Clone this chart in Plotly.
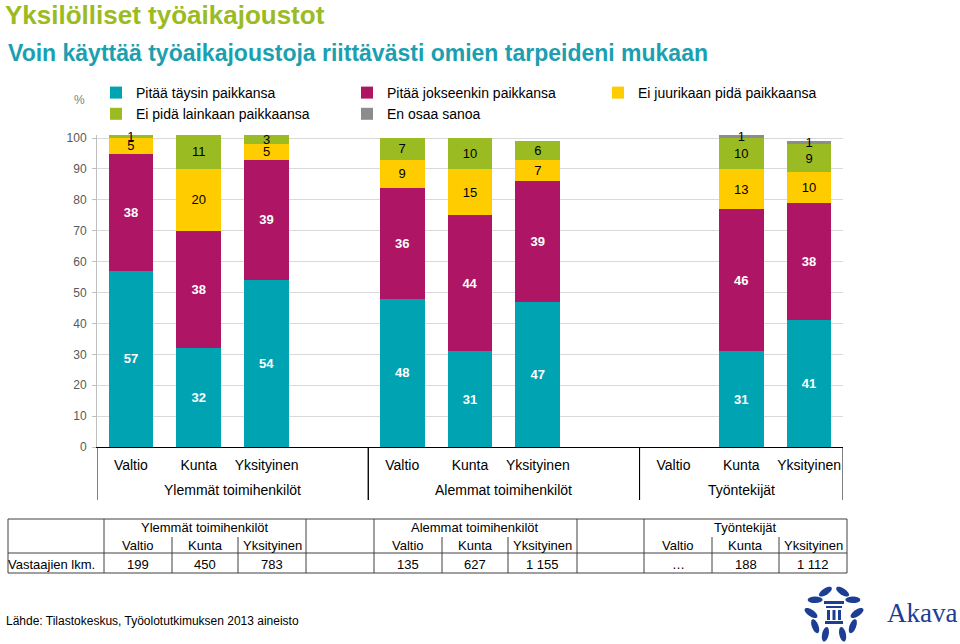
import math
import plotly.graph_objects as go

# ---------------- data ----------------
groups = ["Ylemmät toimihenkilöt"] * 4 + ["Alemmat toimihenkilöt"] * 4 + ["Työntekijät"] * 3
sectors = ["Valtio", "Kunta", "Yksityinen", " ",
           "Valtio", "Kunta", "Yksityinen", " ",
           "Valtio", "Kunta", "Yksityinen"]

series_names = ["Pitää täysin paikkansa", "Pitää jokseenkin paikkansa",
                "Ei juurikaan pidä paikkaansa", "Ei pidä lainkaan paikkaansa",
                "En osaa sanoa"]
taysin = [57, 32, 54, None, 48, 31, 47, None, None, 31, 41]
jokseenkin = [38, 38, 39, None, 36, 44, 39, None, None, 46, 38]
ei_juurikaan = [5, 20, 5, None, 9, 15, 7, None, None, 13, 10]
ei_lainkaan = [1, 11, 3, None, 7, 10, 6, None, None, 10, 9]
eos = [None, None, None, None, None, None, None, None, None, 1, 1]

y_ticks = [0, 10, 20, 30, 40, 50, 60, 70, 80, 90, 100]

table_groups = ["Ylemmät toimihenkilöt", "Alemmat toimihenkilöt", "Työntekijät"]
table_sectors = ["Valtio", "Kunta", "Yksityinen"]
respondents = [["199", "450", "783"], ["135", "627", "1 155"], ["…", "188", "1 112"]]

# ---------------- styling ----------------
colors = ["#00A3B1", "#AE1564", "#FFCC00", "#9BBB22", "#8C8C8C"]
text_colors = ["white", "white", "black", "black", "black"]
text_weights = ["bold", "bold", "normal", "normal", "normal"]
FONT = "Liberation Sans, Arial, sans-serif"

W, H = 960, 644
L, R, T, B = 97, 843, 135, 447
YMAX = 101


def px(x):
    return (x - L) / (R - L)


def py(y):
    return (B - y) / (B - T)


# unique category keys (group + sector); tick text shows the sector only
keys = [f"{g}|{s}" for g, s in zip(groups, sectors)]

fig = go.Figure()
for name, vals, c, tc, tw in zip(series_names,
                                 [taysin, jokseenkin, ei_juurikaan, ei_lainkaan, eos],
                                 colors, text_colors, text_weights):
    fig.add_trace(go.Bar(
        x=keys, y=vals, name=name,
        marker=dict(color=c, line=dict(width=0)),
        width=0.66,
        texttemplate="%{y}", textposition="inside", insidetextanchor="middle",
        constraintext="none", textangle=0,
        textfont=dict(color=tc, size=13, family=FONT, weight=tw),
        cliponaxis=False,
    ))

shapes = []
annotations = []

# group labels and dividers under the category axis
group_order = []
for g in groups:
    if g not in group_order:
        group_order.append(g)
for g in group_order:
    idx = [i for i, gg in enumerate(groups) if gg == g]
    annotations.append(dict(text=g, x=(idx[0] + idx[-1]) / 2, xref="x", y=py(490), yref="paper",
                            showarrow=False, xanchor="center", yanchor="middle",
                            font=dict(size=14, color="black", family=FONT)))
    for xb in (idx[0] - 0.5, idx[-1] + 0.5):
        shapes.append(dict(type="line", xref="x", yref="paper", x0=xb, x1=xb,
                           y0=py(447), y1=py(500), line=dict(color="black", width=1)))

# titles
annotations.append(dict(text="<b>Yksilölliset työaikajoustot</b>", x=px(3), y=py(15),
                        xref="paper", yref="paper", xanchor="left", yanchor="middle",
                        showarrow=False, font=dict(size=26, color="#9BBB22", family=FONT)))
annotations.append(dict(text="<b>Voin käyttää työaikajoustoja riittävästi omien tarpeideni mukaan</b>",
                        x=px(6), y=py(53), xref="paper", yref="paper",
                        xanchor="left", yanchor="middle", showarrow=False,
                        font=dict(size=23, color="#1AA0B0", family=FONT)))
annotations.append(dict(text="%", x=px(79), y=py(100), xref="paper", yref="paper",
                        xanchor="center", yanchor="middle", showarrow=False,
                        font=dict(size=12, color="#7F7F7F", family=FONT)))

# table
edges = [[104, 172, 238, 306], [374, 442, 508, 577], [644, 712, 779, 847]]
top, mid, hb, bot = 519, 537, 553, 573
lc = "#404040"
for yy in [top, hb, bot]:
    shapes.append(dict(type="line", xref="paper", yref="paper", x0=px(8), x1=px(847),
                       y0=py(yy), y1=py(yy), line=dict(color=lc, width=1)))
for xx in [8, 104, 306, 374, 577, 644, 847]:
    shapes.append(dict(type="line", xref="paper", yref="paper", x0=px(xx), x1=px(xx),
                       y0=py(top), y1=py(bot), line=dict(color=lc, width=1)))
tfont = dict(size=13, color="black", family=FONT)
for g, e in enumerate(edges):
    for xx in e[1:3]:
        shapes.append(dict(type="line", xref="paper", yref="paper", x0=px(xx), x1=px(xx),
                           y0=py(mid), y1=py(bot), line=dict(color=lc, width=1)))
    annotations.append(dict(text=table_groups[g], x=px((e[0] + e[3]) / 2), y=py(527),
                            xref="paper", yref="paper", showarrow=False, font=tfont,
                            xanchor="center", yanchor="middle"))
    for k in range(3):
        cx = px((e[k] + e[k + 1]) / 2)
        annotations.append(dict(text=table_sectors[k], x=cx, y=py(545), xref="paper",
                                yref="paper", showarrow=False, font=tfont,
                                xanchor="center", yanchor="middle"))
        annotations.append(dict(text=respondents[g][k], x=cx, y=py(564), xref="paper",
                                yref="paper", showarrow=False, font=tfont,
                                xanchor="center", yanchor="middle"))
annotations.append(dict(text="Vastaajien lkm.", x=px(6), y=py(564), xref="paper",
                        yref="paper", showarrow=False, font=tfont,
                        xanchor="left", yanchor="middle"))

annotations.append(dict(text="Lähde: Tilastokeskus, Työolotutkimuksen 2013 aineisto",
                        x=px(4), y=py(621), xref="paper", yref="paper", showarrow=False,
                        xanchor="left", yanchor="middle",
                        font=dict(size=12, color="black", family=FONT)))

# Akava logo (decorative)
blue = "#1D3E93"
annotations.append(dict(text="Akava", x=px(885), y=py(613), xref="paper", yref="paper",
                        showarrow=False, xanchor="left", yanchor="middle",
                        font=dict(size=27, color=blue, family="Liberation Serif, serif")))


def leaf(cx, cy, ang, a=7.5, b=3.3):
    pts = []
    for i in range(16):
        t = 2 * math.pi * i / 16
        lx, ly = a * math.cos(t), b * math.sin(t)
        rx = lx * math.cos(ang) - ly * math.sin(ang)
        ry = lx * math.sin(ang) + ly * math.cos(ang)
        pts.append((px(cx + rx), py(cy + ry)))
    return "M " + " L ".join(f"{x:.5f},{y:.5f}" for x, y in pts) + " Z"


lcx, lcy, rad = 834, 613, 23
for deg in [22, 55, 90, 125, 158]:
    for sgn in [1, -1]:
        th = math.radians(deg)
        cx = lcx + sgn * rad * math.sin(th)
        cy = lcy - rad * math.cos(th)
        ang = math.atan2(sgn * math.sin(th + 0.6), -math.cos(th + 0.6)) + math.pi / 2
        shapes.append(dict(type="path", xref="paper", yref="paper",
                           path=leaf(cx, cy, ang), fillcolor=blue, line=dict(width=0)))
for (x0, y0, x1, y1) in [(824, 601, 844, 604), (826, 606, 842, 608),
                         (827, 610, 830, 620), (832.5, 610, 835.5, 620), (838, 610, 841, 620),
                         (825, 621, 843, 624)]:
    shapes.append(dict(type="rect", xref="paper", yref="paper", x0=px(x0), x1=px(x1),
                       y0=py(y1), y1=py(y0), fillcolor=blue, line=dict(width=0)))

fig.update_layout(
    width=W, height=H, barmode="stack",
    margin=dict(l=L, r=W - R, t=T, b=H - B, autoexpand=False),
    paper_bgcolor="white", plot_bgcolor="white",
    font=dict(family=FONT, size=14, color="black"),
    showlegend=True,
    legend=dict(orientation="h", x=px(96), y=py(77), xanchor="left", yanchor="top",
                entrywidth=206, entrywidthmode="pixels", traceorder="normal",
                font=dict(size=14, color="black", family=FONT), bgcolor="rgba(0,0,0,0)"),
    shapes=shapes, annotations=annotations,
)
fig.update_yaxes(range=[0, YMAX], tickvals=y_ticks, showgrid=True, gridcolor="#D9D9D9",
                 gridwidth=1, zeroline=False, showline=True, linecolor="#BFBFBF",
                 ticks="outside", ticklen=4, tickcolor="#BFBFBF", ticklabelstandoff=3,
                 tickfont=dict(size=12, color="#595959", family=FONT))
fig.update_xaxes(type="category", categoryorder="array", categoryarray=keys,
                 range=[-0.5, len(keys) - 0.5],
                 tickvals=keys, ticktext=sectors, tickangle=0, ticklabelstandoff=5,
                 showline=True, linecolor="black", linewidth=1, ticks="",
                 tickfont=dict(size=14, color="black", family=FONT), showgrid=False)

fig.write_html("out.html", config={"displayModeBar": False},
               post_script="document.body.style.margin='0px';document.body.style.overflow='hidden';")
